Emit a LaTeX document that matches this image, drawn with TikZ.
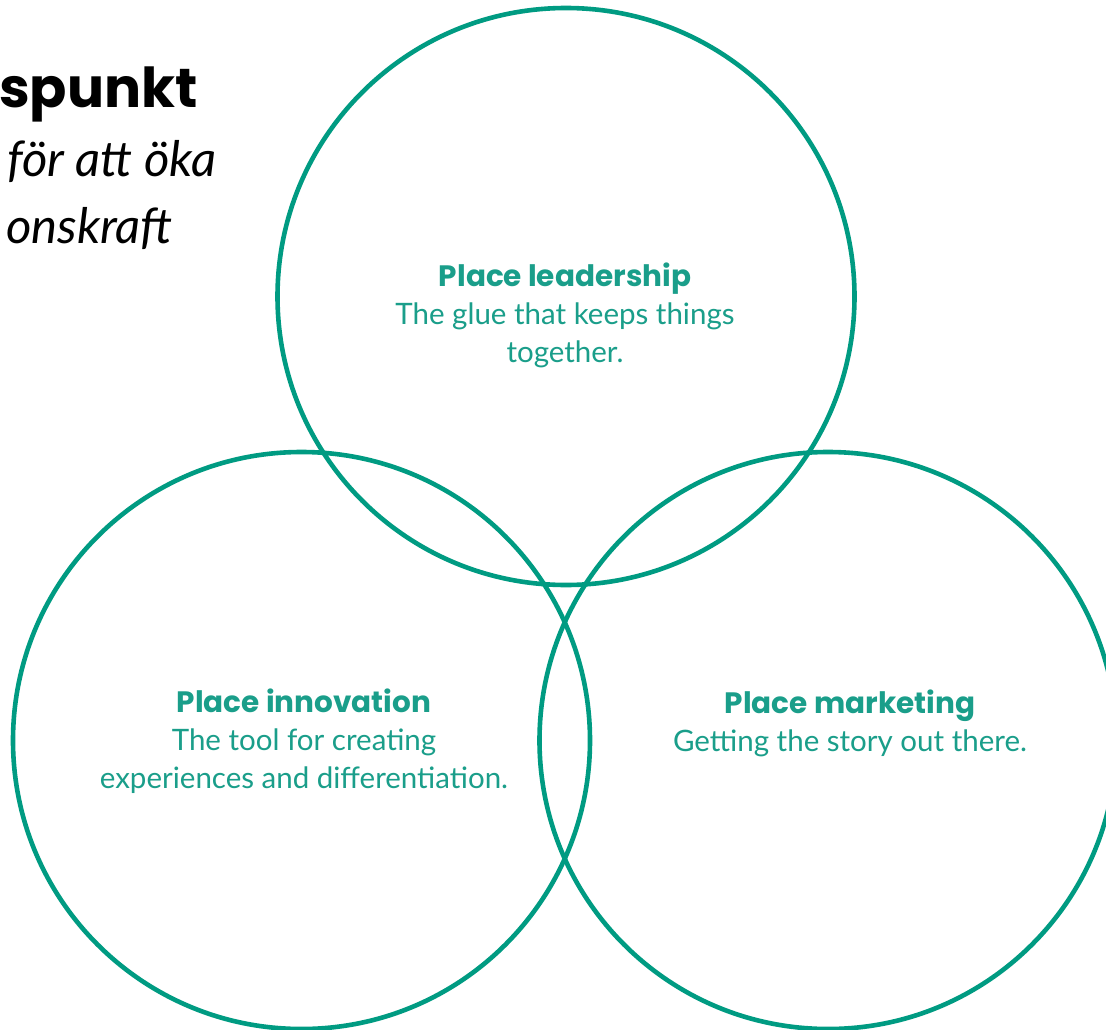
\documentclass[tikz,border=0pt]{standalone}
\usepackage{fontspec}
\setmainfont{Lato}
\newfontfamily\headfont{Poppins}
\definecolor{ringteal}{RGB}{0,155,130}
\definecolor{textteal}{RGB}{26,158,138}
\newcommand{\headline}[1]{{\headfont\bfseries\fontsize{29.5}{38}\selectfont #1}}
\begin{document}
\begin{tikzpicture}[x=1pt,y=-1pt,
  ring/.style={circle, draw=ringteal, line width=4.6pt, minimum size=577pt, inner sep=0pt},
  blurb/.style={align=center, text=textteal, inner sep=0pt, anchor=base, font=\fontsize{29.5}{38}\selectfont},
  titlebit/.style={anchor=base east, inner sep=0pt, text=black}
]
\useasboundingbox (0,0) rectangle (1106,1030);
\fill[white] (0,0) rectangle (1106,1030);
% title fragments
\node[titlebit, font=\headfont\fontsize{55}{60}\selectfont\bfseries] (t1) at (198,108) {spunkt};
\node[titlebit, font=\fontsize{49}{56}\selectfont\itshape] (t2) at (217,177) {för att öka};
\node[titlebit, font=\fontsize{49}{56}\selectfont\itshape] (t3) at (173,243) {onskraft};
% circles
\node[ring] (lead) at (566,296.5) {};
\node[ring] (innov) at (301.5,740.5) {};
\node[ring] (mark) at (828,740.5) {};
% labels (anchor = baseline of last line)
\node[blurb] (leadtxt) at (565,362) {\headline{Place leadership}\\The glue that keeps things\\together.};
\node[blurb] (innovtxt) at (304,788) {\headline{Place innovation}\\The tool for creating\\experiences and differentiation.};
\node[blurb] (marktxt) at (850,751) {\headline{Place marketing}\\Getting the story out there.};
\end{tikzpicture}
\end{document}
